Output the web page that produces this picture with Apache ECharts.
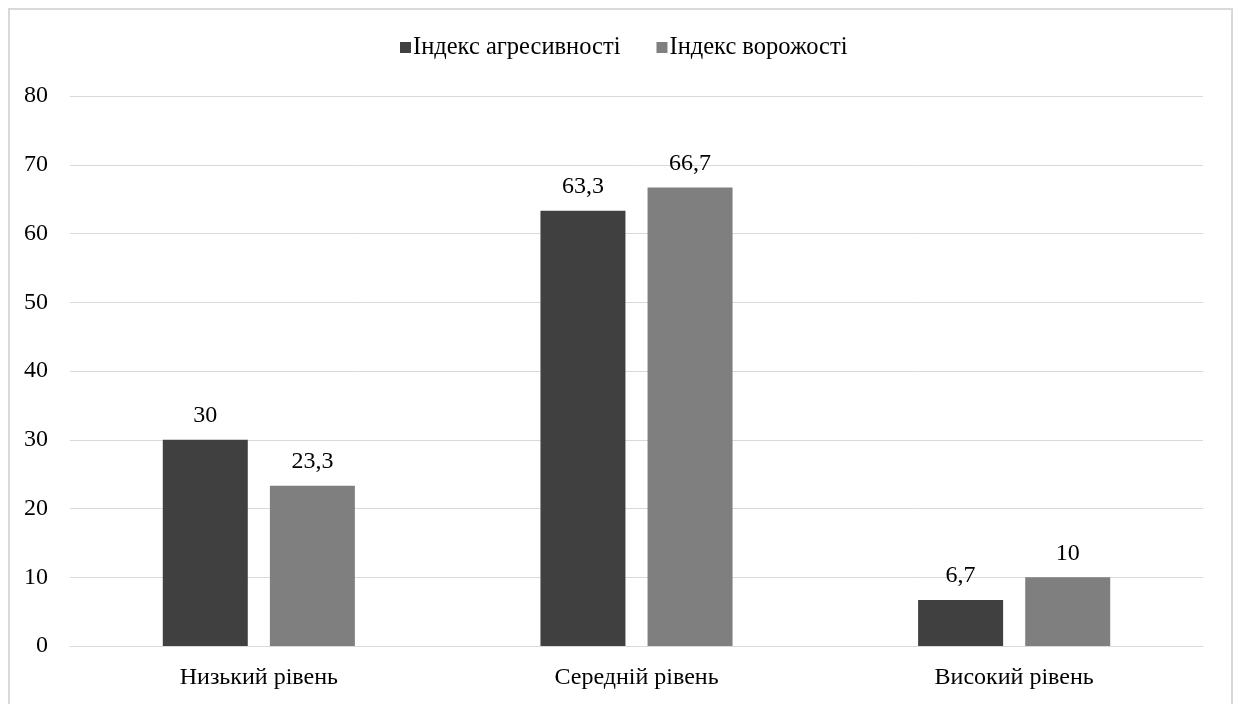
<!DOCTYPE html>
<html>
<head>
<meta charset="utf-8">
<script src="https://cdn.jsdelivr.net/npm/echarts@6/dist/echarts.min.js"></script>
<style>
  html, body { margin: 0; padding: 0; background: #ffffff; }
  #chart { width: 1234px; height: 704px; }
</style>
</head>
<body>
<div id="chart"></div>
<script>
// Levels and percentages for the two indices
const categories = ['Низький рівень', 'Середній рівень', 'Високий рівень'];
const seriesNames = ['Індекс агресивності', 'Індекс ворожості'];
const aggression = [30, 63.3, 6.7];
const hostility = [23.3, 66.7, 10];
const yTicks = [0, 10, 20, 30, 40, 50, 60, 70, 80];

const FONT = "'Liberation Serif', 'Times New Roman', serif";
const FS = 24;
const fmt = v => String(v).replace('.', ',');

const chart = echarts.init(document.getElementById('chart'), null, { renderer: 'canvas' });

chart.setOption({
  animation: false,
  backgroundColor: '#ffffff',
  textStyle: { fontFamily: FONT, color: '#000000' },
  graphic: [{
    type: 'rect',
    silent: true,
    shape: { x: 9, y: 9, width: 1223, height: 720 },
    style: { fill: 'none', stroke: '#d9d9d9', lineWidth: 2 }
  }],
  legend: {
    top: 30,
    left: 395,
    itemWidth: 11,
    itemHeight: 11,
    itemGap: 36,
    icon: 'rect',
    textStyle: { fontFamily: FONT, fontSize: 24.5, color: '#000000', padding: [0, 0, 0, -3] },
    data: seriesNames
  },
  grid: { left: 70, right: 31, top: 96, bottom: 58, containLabel: false },
  xAxis: {
    type: 'category',
    data: categories,
    axisLine: { show: true, lineStyle: { color: '#d9d9d9', width: 1 } },
    axisTick: { show: false },
    axisLabel: { fontFamily: FONT, fontSize: FS, color: '#000000', margin: 20 }
  },
  yAxis: {
    type: 'value',
    min: yTicks[0],
    max: yTicks[yTicks.length - 1],
    interval: yTicks[1] - yTicks[0],
    axisLine: { show: false },
    axisTick: { show: false },
    splitLine: { lineStyle: { color: '#d9d9d9', width: 1 } },
    axisLabel: { fontFamily: FONT, fontSize: FS, color: '#000000', margin: 22 }
  },
  series: [
    {
      name: seriesNames[0],
      type: 'bar',
      data: aggression,
      barWidth: 85,
      barGap: '26%',
      itemStyle: { color: '#404040' },
      label: {
        show: true, position: 'top', distance: 12,
        fontFamily: FONT, fontSize: FS, color: '#000000',
        formatter: p => fmt(p.value)
      }
    },
    {
      name: seriesNames[1],
      type: 'bar',
      data: hostility,
      barWidth: 85,
      itemStyle: { color: '#7f7f7f' },
      label: {
        show: true, position: 'top', distance: 12,
        fontFamily: FONT, fontSize: FS, color: '#000000',
        formatter: p => fmt(p.value)
      }
    }
  ]
});
</script>
</body>
</html>
